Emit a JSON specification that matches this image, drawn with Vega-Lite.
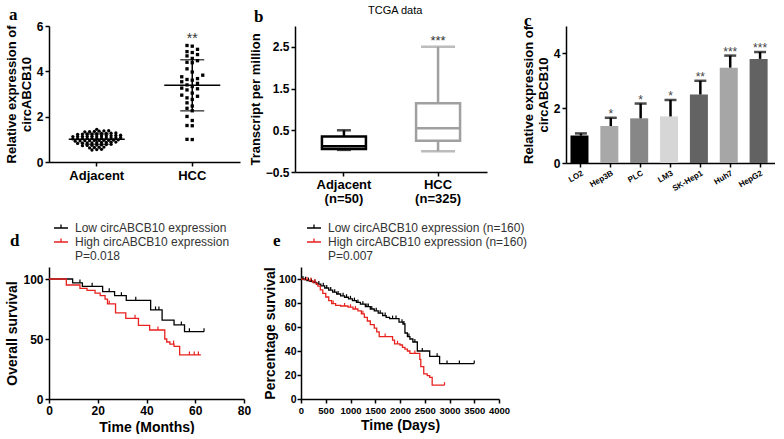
{
  "$schema": "https://vega.github.io/schema/vega-lite/v6.json",
  "background": "white",
  "padding": {"left": 5, "top": 5, "right": 0, "bottom": 0},
  "config": {
    "view": {"stroke": null},
    "font": "Liberation Sans",
    "axis": {"grid": false, "domainColor": "black", "domainWidth": 1.5, "tickColor": "black", "tickWidth": 1.5, "tickSize": 4, "labelFont": "Liberation Sans", "labelFontWeight": "bold", "labelColor": "black", "labelFontSize": 12, "labelPadding": 2, "labelOverlap": false, "labelFlush": false, "titleFont": "Liberation Sans", "titleFontWeight": "bold", "titleColor": "black", "titleFontSize": 13, "titlePadding": 3},
    "legend": {"padding": 0, "titleFont": "Liberation Serif", "titleFontSize": 17, "titleFontWeight": "bold", "titleColor": "black"}
  },
  "align": "none",
  "spacing": 15,
  "resolve": {"scale": {"color": "independent", "shape": "independent", "size": "independent", "opacity": "independent"}, "legend": {"color": "independent", "shape": "independent", "size": "independent", "opacity": "independent"}},
  "vconcat": [
    {
      "align": "none",
      "spacing": 35,
      "resolve": {"scale": {"color": "independent", "shape": "independent", "size": "independent", "opacity": "independent"}, "legend": {"color": "independent", "shape": "independent", "size": "independent", "opacity": "independent"}},
      "hconcat": [
        {
          "align": "none",
          "spacing": 9,
          "resolve": {"scale": {"color": "independent", "shape": "independent", "size": "independent", "opacity": "independent"}, "legend": {"color": "independent", "shape": "independent", "size": "independent", "opacity": "independent"}},
          "hconcat": [
            {
              "width": 191, "height": 136,
              "data": {"values": [
                {"group": "Adjacent", "value": 1.44},
                {"group": "Adjacent", "value": 1.36}, {"group": "Adjacent", "value": 1.34}, {"group": "Adjacent", "value": 1.37}, {"group": "Adjacent", "value": 1.33}, {"group": "Adjacent", "value": 1.35}, {"group": "Adjacent", "value": 1.38},
                {"group": "Adjacent", "value": 1.26}, {"group": "Adjacent", "value": 1.24}, {"group": "Adjacent", "value": 1.27}, {"group": "Adjacent", "value": 1.23}, {"group": "Adjacent", "value": 1.25}, {"group": "Adjacent", "value": 1.28}, {"group": "Adjacent", "value": 1.22}, {"group": "Adjacent", "value": 1.26}, {"group": "Adjacent", "value": 1.24},
                {"group": "Adjacent", "value": 1.16}, {"group": "Adjacent", "value": 1.14}, {"group": "Adjacent", "value": 1.17}, {"group": "Adjacent", "value": 1.13}, {"group": "Adjacent", "value": 1.15}, {"group": "Adjacent", "value": 1.18}, {"group": "Adjacent", "value": 1.12}, {"group": "Adjacent", "value": 1.16}, {"group": "Adjacent", "value": 1.14}, {"group": "Adjacent", "value": 1.15}, {"group": "Adjacent", "value": 1.13},
                {"group": "Adjacent", "value": 1.06}, {"group": "Adjacent", "value": 1.04}, {"group": "Adjacent", "value": 1.07}, {"group": "Adjacent", "value": 1.03}, {"group": "Adjacent", "value": 1.05}, {"group": "Adjacent", "value": 1.08}, {"group": "Adjacent", "value": 1.02}, {"group": "Adjacent", "value": 1.06}, {"group": "Adjacent", "value": 1.04}, {"group": "Adjacent", "value": 1.05}, {"group": "Adjacent", "value": 1.03},
                {"group": "Adjacent", "value": 0.96}, {"group": "Adjacent", "value": 0.94}, {"group": "Adjacent", "value": 0.97}, {"group": "Adjacent", "value": 0.93}, {"group": "Adjacent", "value": 0.95}, {"group": "Adjacent", "value": 0.98}, {"group": "Adjacent", "value": 0.92}, {"group": "Adjacent", "value": 0.96}, {"group": "Adjacent", "value": 0.94}, {"group": "Adjacent", "value": 0.95},
                {"group": "Adjacent", "value": 0.86}, {"group": "Adjacent", "value": 0.84}, {"group": "Adjacent", "value": 0.87}, {"group": "Adjacent", "value": 0.83}, {"group": "Adjacent", "value": 0.85}, {"group": "Adjacent", "value": 0.88}, {"group": "Adjacent", "value": 0.82}, {"group": "Adjacent", "value": 0.86}, {"group": "Adjacent", "value": 0.84},
                {"group": "Adjacent", "value": 0.76}, {"group": "Adjacent", "value": 0.74}, {"group": "Adjacent", "value": 0.77}, {"group": "Adjacent", "value": 0.73}, {"group": "Adjacent", "value": 0.75}, {"group": "Adjacent", "value": 0.72}, {"group": "Adjacent", "value": 0.78},
                {"group": "Adjacent", "value": 0.66}, {"group": "Adjacent", "value": 0.64}, {"group": "Adjacent", "value": 0.62}, {"group": "Adjacent", "value": 0.65},
                {"group": "Adjacent", "value": 0.56}, {"group": "Adjacent", "value": 0.53}, {"group": "Adjacent", "value": 0.55},
                {"group": "HCC", "value": 5.14}, {"group": "HCC", "value": 5.11}, {"group": "HCC", "value": 4.97}, {"group": "HCC", "value": 4.87}, {"group": "HCC", "value": 4.83},
                {"group": "HCC", "value": 4.74}, {"group": "HCC", "value": 4.68}, {"group": "HCC", "value": 4.57}, {"group": "HCC", "value": 4.47}, {"group": "HCC", "value": 4.40},
                {"group": "HCC", "value": 4.38}, {"group": "HCC", "value": 4.11}, {"group": "HCC", "value": 3.97}, {"group": "HCC", "value": 3.83}, {"group": "HCC", "value": 3.76},
                {"group": "HCC", "value": 3.68}, {"group": "HCC", "value": 3.64}, {"group": "HCC", "value": 3.61}, {"group": "HCC", "value": 3.54}, {"group": "HCC", "value": 3.47},
                {"group": "HCC", "value": 3.40}, {"group": "HCC", "value": 3.33}, {"group": "HCC", "value": 3.26}, {"group": "HCC", "value": 3.23}, {"group": "HCC", "value": 3.18},
                {"group": "HCC", "value": 3.04}, {"group": "HCC", "value": 2.95}, {"group": "HCC", "value": 2.90}, {"group": "HCC", "value": 2.83}, {"group": "HCC", "value": 2.76},
                {"group": "HCC", "value": 2.61}, {"group": "HCC", "value": 2.47}, {"group": "HCC", "value": 2.37}, {"group": "HCC", "value": 2.26}, {"group": "HCC", "value": 2.01},
                {"group": "HCC", "value": 1.83}, {"group": "HCC", "value": 1.61}, {"group": "HCC", "value": 1.60}, {"group": "HCC", "value": 1.00}, {"group": "HCC", "value": 0.99}
              ]},
              "encoding": {
                "x": {"field": "group", "type": "nominal", "sort": ["Adjacent", "HCC"], "scale": {"paddingInner": 0.3, "paddingOuter": 0.15}, "axis": {"title": null, "labelAngle": 0, "labelFontSize": 13, "labelPadding": 3}}
              },
              "layer": [
                {
                  "transform": [
                    {"calculate": "floor(datum.value / (datum.group == 'HCC' ? 0.3 : 0.1))", "as": "b"},
                    {"window": [{"op": "row_number", "as": "r"}], "groupby": ["group", "b"], "sort": [{"field": "value"}]},
                    {"joinaggregate": [{"op": "count", "as": "n"}], "groupby": ["group", "b"]},
                    {"calculate": "datum.group == 'HCC' ? (datum.r % 2 == 1 ? 1 : -1) * floor(datum.r / 2) * 1.1 : datum.r - (datum.n + 1) / 2", "as": "off"}
                  ],
                  "mark": {"type": "point", "filled": true, "size": 11, "opacity": 1, "color": "black"},
                  "encoding": {
                    "xOffset": {"field": "off", "type": "quantitative", "scale": {"domain": [-7, 7]}},
                    "y": {"field": "value", "type": "quantitative", "scale": {"domain": [0, 6]}, "axis": {"values": [0, 2, 4, 6]}, "title": ["Relative expression of", "circABCB10"]},
                    "shape": {"field": "group", "type": "nominal", "scale": {"domain": ["Adjacent", "HCC"], "range": ["circle", "square"]}, "legend": {"orient": "none", "legendX": -40, "legendY": -19, "title": "a", "values": ["Adjacent"], "labelExpr": "''", "symbolOpacity": 0, "symbolSize": 0, "symbolFillColor": "transparent", "symbolStrokeColor": "transparent", "titlePadding": 0}}
                  }
                },
                {
                  "mark": {"type": "tick", "color": "black", "thickness": 1.5, "size": 56},
                  "encoding": {"y": {"aggregate": "mean", "field": "value", "type": "quantitative", "title": ["Relative expression of", "circABCB10"]}}
                },
                {
                  "mark": {"type": "errorbar", "extent": "stdev", "ticks": true, "size": 24, "thickness": 1.5, "color": "black"},
                  "encoding": {"y": {"field": "value", "type": "quantitative", "title": ["Relative expression of", "circABCB10"]}}
                },
                {
                  "transform": [{"filter": "datum.group == 'HCC'"}, {"aggregate": [{"op": "max", "field": "value", "as": "top"}], "groupby": ["group"]}],
                  "mark": {"type": "text", "text": "**", "baseline": "bottom", "dy": 1, "fontSize": 14, "color": "#333"},
                  "encoding": {"y": {"field": "top", "type": "quantitative", "title": ["Relative expression of", "circABCB10"]}}
                }
              ]
            },
            {
              "width": 192, "height": 146,
              "data": {"values": [
                {"group": "Adjacent", "min": 0.03, "q1": 0.05, "median": 0.12, "q3": 0.35, "max": 0.5},
                {"group": "HCC", "min": 0.0, "q1": 0.25, "median": 0.55, "q3": 1.15, "max": 2.5}
              ]},
              "encoding": {
                "x": {"field": "group", "type": "nominal", "sort": ["Adjacent", "HCC"], "scale": {"paddingInner": 0.5, "paddingOuter": 0.27}, "axis": {"title": null, "labelAngle": 0, "labelFontSize": 13, "labelLineHeight": 14, "labelExpr": "datum.value == 'Adjacent' ? ['Adjacent', '(n=50)'] : ['HCC', '(n=325)']"}},
                "color": {"field": "group", "type": "nominal", "scale": {"domain": ["Adjacent", "HCC"], "range": ["black", "#a0a0a0"]}, "legend": {"orient": "none", "legendX": -41, "legendY": -17, "title": "b", "values": ["Adjacent"], "labelExpr": "''", "symbolOpacity": 0, "symbolSize": 0, "symbolFillColor": "transparent", "symbolStrokeColor": "transparent", "titlePadding": 0}}
              },
              "layer": [
                {"mark": {"type": "rule", "strokeWidth": 2.5}, "encoding": {"y": {"field": "min", "type": "quantitative", "scale": {"domain": [-0.5, 3]}, "axis": {"values": [-0.5, 0, 0.5, 1, 1.5, 2, 2.5, 3], "format": ".1f"}, "title": "Transcript per million"}, "y2": {"field": "q1"}}},
                {"mark": {"type": "rule", "strokeWidth": 2.5}, "encoding": {"y": {"field": "q3", "type": "quantitative", "title": "Transcript per million"}, "y2": {"field": "max"}}},
                {"mark": {"type": "bar", "filled": false, "strokeWidth": 2.5, "width": 44}, "encoding": {"y": {"field": "q1", "type": "quantitative", "title": "Transcript per million"}, "y2": {"field": "q3"}}},
                {"mark": {"type": "tick", "size": 44, "thickness": 2.5}, "encoding": {"y": {"field": "median", "type": "quantitative", "title": "Transcript per million"}, "opacity": {"field": "median", "type": "nominal", "scale": {"range": [1, 1]}, "legend": {"orient": "none", "legendX": 73, "legendY": -21, "title": "TCGA data", "titleFont": "Liberation Sans", "titleFontSize": 11, "titleFontWeight": "normal", "values": [0.12], "labelExpr": "''", "symbolOpacity": 0, "symbolSize": 0, "symbolFillColor": "transparent", "symbolStrokeColor": "transparent", "symbolStrokeWidth": 0, "titlePadding": 0}}}},
                {"mark": {"type": "tick", "thickness": 2.5}, "encoding": {"y": {"field": "max", "type": "quantitative", "title": "Transcript per million"}, "size": {"field": "group", "type": "nominal", "scale": {"domain": ["Adjacent", "HCC"], "range": [14, 34]}, "legend": null}}},
                {"mark": {"type": "tick", "thickness": 2.5}, "encoding": {"y": {"field": "min", "type": "quantitative", "title": "Transcript per million"}, "size": {"field": "group", "type": "nominal", "scale": {"domain": ["Adjacent", "HCC"], "range": [14, 34]}, "legend": null}}},
                {"transform": [{"filter": "datum.group == 'HCC'"}], "mark": {"type": "text", "text": "***", "baseline": "bottom", "dy": 1, "fontSize": 13, "color": "#333"}, "encoding": {"y": {"field": "max", "type": "quantitative", "title": "Transcript per million"}, "color": {"value": "#333"}}}
              ]
            }
          ]
        },
        {
          "width": 209, "height": 137,
          "data": {"values": [
            {"cell": "LO2", "mean": 1.0, "upper": 1.08, "sig": ""},
            {"cell": "Hep3B", "mean": 1.35, "upper": 1.65, "sig": "*"},
            {"cell": "PLC", "mean": 1.63, "upper": 2.17, "sig": "*"},
            {"cell": "LM3", "mean": 1.7, "upper": 2.3, "sig": "*"},
            {"cell": "SK-Hep1", "mean": 2.5, "upper": 3.0, "sig": "**"},
            {"cell": "Huh7", "mean": 3.48, "upper": 3.92, "sig": "***"},
            {"cell": "HepG2", "mean": 3.8, "upper": 4.05, "sig": "***"}
          ]},
          "encoding": {
            "x": {"field": "cell", "type": "nominal", "sort": null, "scale": {"paddingInner": 0.3, "paddingOuter": 0.15}, "axis": {"title": null, "labelAngle": -30, "labelFontSize": 8, "labelAlign": "right", "labelBaseline": "top"}}
          },
          "layer": [
            {"mark": {"type": "bar"}, "encoding": {
              "y": {"field": "mean", "type": "quantitative", "scale": {"domain": [0, 5]}, "axis": {"values": [0, 1, 2, 3, 4, 5]}, "title": ["Relative expression of", "circABCB10"]},
              "color": {"field": "cell", "type": "nominal", "scale": {"domain": ["LO2", "Hep3B", "PLC", "LM3", "SK-Hep1", "Huh7", "HepG2"], "range": ["#000000", "#a8a8a8", "#878787", "#d6d6d6", "#636363", "#a6a6a6", "#626262"]}, "legend": {"orient": "none", "legendX": -42, "legendY": -13, "title": "c", "values": ["LO2"], "labelExpr": "''", "symbolOpacity": 0, "symbolSize": 1, "titlePadding": 0}}
            }},
            {"mark": {"type": "rule", "strokeWidth": 2.5, "color": "black"}, "encoding": {"y": {"field": "mean", "type": "quantitative", "title": ["Relative expression of", "circABCB10"]}, "y2": {"field": "upper"}}},
            {"mark": {"type": "tick", "size": 12, "thickness": 2.5, "color": "black"}, "encoding": {"y": {"field": "upper", "type": "quantitative", "title": ["Relative expression of", "circABCB10"]}}},
            {"mark": {"type": "text", "baseline": "bottom", "dy": 3, "fontSize": 12, "color": "#444"}, "encoding": {"y": {"field": "upper", "type": "quantitative", "title": ["Relative expression of", "circABCB10"]}, "text": {"field": "sig"}}}
          ]
        }
      ]
    },
    {
      "align": "none",
      "spacing": 12,
      "resolve": {"scale": {"color": "independent"}, "legend": {"color": "independent"}},
      "hconcat": [
        {
          "width": 195, "height": 132,
          "encoding": {
            "x": {"field": "t", "type": "quantitative", "scale": {"domain": [0, 80]}, "axis": {"values": [0, 20, 40, 60, 80], "title": "Time (Months)", "titleFontSize": 14, "titlePadding": 4}},
            "y": {"field": "s", "type": "quantitative", "scale": {"domain": [0, 110]}, "axis": {"values": [0, 50, 100], "title": "Overall survival", "titleFontSize": 14}},
            "color": {"field": "g", "type": "nominal", "scale": {"domain": ["Low", "High", "P"], "range": ["black", "#e8221f", "transparent"]}, "legend": {"orient": "none", "legendX": -39, "legendY": -47, "title": "d", "titleOrient": "left", "titleAngle": 0, "titleAnchor": "middle", "titleBaseline": "middle", "titlePadding": 33, "symbolType": "M-1,0H1M0,0V-0.5", "symbolSize": 196, "symbolStrokeWidth": 1.3, "symbolFillColor": "transparent", "labelFont": "Liberation Sans", "labelFontSize": 12, "labelFontWeight": "normal", "labelColor": "#333", "labelOffset": 6, "labelLimit": 400, "rowPadding": 0, "labelExpr": "datum.label == 'Low' ? 'Low circABCB10 expression' : datum.label == 'High' ? 'High circABCB10 expression' : 'P=0.018'"}}
          },
          "layer": [
            {
              "data": {"values": [
                {"g": "Low", "t": 0, "s": 100}, {"g": "Low", "t": 9.7, "s": 96.7}, {"g": "Low", "t": 13.7, "s": 93.9}, {"g": "Low", "t": 22, "s": 89.4}, {"g": "Low", "t": 26.9, "s": 86.1}, {"g": "Low", "t": 31.7, "s": 82.2}, {"g": "Low", "t": 41.7, "s": 74.2}, {"g": "Low", "t": 46.4, "s": 65.8}, {"g": "Low", "t": 51.3, "s": 61.7}, {"g": "Low", "t": 55.6, "s": 56.1}, {"g": "Low", "t": 63.6, "s": 56.1},
                {"g": "High", "t": 0, "s": 100}, {"g": "High", "t": 7.1, "s": 95}, {"g": "High", "t": 12.7, "s": 92.2}, {"g": "High", "t": 15.6, "s": 90.6}, {"g": "High", "t": 18.9, "s": 88.3}, {"g": "High", "t": 21, "s": 86.1}, {"g": "High", "t": 23, "s": 83.3}, {"g": "High", "t": 24, "s": 79.2}, {"g": "High", "t": 27.3, "s": 71.7}, {"g": "High", "t": 31.5, "s": 67.2}, {"g": "High", "t": 36.7, "s": 61.4}, {"g": "High", "t": 41.3, "s": 57.5}, {"g": "High", "t": 47.5, "s": 50}, {"g": "High", "t": 48.3, "s": 47.5}, {"g": "High", "t": 49.6, "s": 45.8}, {"g": "High", "t": 51.3, "s": 43.9}, {"g": "High", "t": 53.6, "s": 36.7}, {"g": "High", "t": 62.3, "s": 36.7}
              ]},
              "mark": {"type": "line", "interpolate": "step-after", "strokeWidth": 1.3}
            },
            {
              "data": {"values": [
                {"g": "Low", "t": 12.7, "s": 96.7}, {"g": "Low", "t": 17.7, "s": 93.9}, {"g": "Low", "t": 24.7, "s": 89.4}, {"g": "Low", "t": 29.7, "s": 86.1}, {"g": "Low", "t": 35.6, "s": 82.2}, {"g": "Low", "t": 43.7, "s": 74.2}, {"g": "Low", "t": 45.1, "s": 74.2}, {"g": "Low", "t": 54.3, "s": 61.7}, {"g": "Low", "t": 57.6, "s": 56.1}, {"g": "Low", "t": 63.6, "s": 56.1},
                {"g": "High", "t": 24.7, "s": 79.2}, {"g": "High", "t": 35.3, "s": 67.2}, {"g": "High", "t": 44.7, "s": 57.5}, {"g": "High", "t": 51.1, "s": 45.8}, {"g": "High", "t": 57.6, "s": 36.7}, {"g": "High", "t": 59.6, "s": 36.7}, {"g": "High", "t": 61.3, "s": 36.7}
              ]},
              "mark": {"type": "point", "shape": "M0,0V-1", "size": 49, "strokeWidth": 1.2, "filled": false, "opacity": 1}
            }
          ]
        },
        {
          "width": 198, "height": 132,
          "encoding": {
            "x": {"field": "t", "type": "quantitative", "scale": {"domain": [0, 4000]}, "axis": {"values": [0, 500, 1000, 1500, 2000, 2500, 3000, 3500, 4000], "format": "d", "title": "Time (Days)", "titleFontSize": 14, "titlePadding": 4, "labelFontSize": 9.5}},
            "y": {"field": "s", "type": "quantitative", "scale": {"domain": [0, 110]}, "axis": {"values": [0, 20, 40, 60, 80, 100], "title": "Percentage survival", "titleFontSize": 14, "titlePadding": 1, "labelPadding": 1, "labelFontSize": 10.5}},
            "color": {"field": "g", "type": "nominal", "scale": {"domain": ["Low", "High", "P"], "range": ["black", "#e8221f", "transparent"]}, "legend": {"orient": "none", "legendX": -28, "legendY": -47, "title": "e", "titleOrient": "left", "titleAngle": 0, "titleAnchor": "middle", "titleBaseline": "middle", "titlePadding": 25, "symbolType": "M-1,0H1M0,0V-0.5", "symbolSize": 196, "symbolStrokeWidth": 1.3, "symbolFillColor": "transparent", "labelFont": "Liberation Sans", "labelFontSize": 12, "labelFontWeight": "normal", "labelColor": "#333", "labelOffset": 6, "labelLimit": 400, "rowPadding": 0, "labelExpr": "datum.label == 'Low' ? 'Low circABCB10 expression (n=160)' : datum.label == 'High' ? 'High circABCB10 expression (n=160)' : 'P=0.007'"}}
          },
          "layer": [
            {
              "data": {"values": [
                {"g": "Low", "t": 0, "s": 100}, {"g": "Low", "t": 60, "s": 99.4}, {"g": "Low", "t": 120, "s": 98.7}, {"g": "Low", "t": 180, "s": 98}, {"g": "Low", "t": 250, "s": 97}, {"g": "Low", "t": 320, "s": 95.8}, {"g": "Low", "t": 400, "s": 94.3}, {"g": "Low", "t": 480, "s": 92.5}, {"g": "Low", "t": 560, "s": 90.8}, {"g": "Low", "t": 640, "s": 89}, {"g": "Low", "t": 720, "s": 87.5}, {"g": "Low", "t": 800, "s": 86}, {"g": "Low", "t": 880, "s": 84.8}, {"g": "Low", "t": 960, "s": 83.5}, {"g": "Low", "t": 1040, "s": 82}, {"g": "Low", "t": 1120, "s": 80.5}, {"g": "Low", "t": 1200, "s": 79}, {"g": "Low", "t": 1300, "s": 77}, {"g": "Low", "t": 1400, "s": 75}, {"g": "Low", "t": 1480, "s": 73.5}, {"g": "Low", "t": 1560, "s": 71.5}, {"g": "Low", "t": 1650, "s": 69.5}, {"g": "Low", "t": 1720, "s": 68}, {"g": "Low", "t": 1790, "s": 67}, {"g": "Low", "t": 1980, "s": 64}, {"g": "Low", "t": 2060, "s": 62.5}, {"g": "Low", "t": 2100, "s": 55}, {"g": "Low", "t": 2150, "s": 52}, {"g": "Low", "t": 2200, "s": 50}, {"g": "Low", "t": 2260, "s": 47.5}, {"g": "Low", "t": 2350, "s": 40}, {"g": "Low", "t": 2600, "s": 35.6}, {"g": "Low", "t": 2800, "s": 29.5}, {"g": "Low", "t": 3500, "s": 29.5},
                {"g": "High", "t": 0, "s": 100}, {"g": "High", "t": 80, "s": 99.4}, {"g": "High", "t": 160, "s": 98.7}, {"g": "High", "t": 230, "s": 97.5}, {"g": "High", "t": 300, "s": 96}, {"g": "High", "t": 340, "s": 94}, {"g": "High", "t": 390, "s": 91}, {"g": "High", "t": 440, "s": 88}, {"g": "High", "t": 500, "s": 85}, {"g": "High", "t": 560, "s": 82}, {"g": "High", "t": 620, "s": 79.5}, {"g": "High", "t": 700, "s": 78}, {"g": "High", "t": 800, "s": 77.5}, {"g": "High", "t": 950, "s": 76.5}, {"g": "High", "t": 1050, "s": 75}, {"g": "High", "t": 1150, "s": 73.5}, {"g": "High", "t": 1220, "s": 71}, {"g": "High", "t": 1280, "s": 68}, {"g": "High", "t": 1340, "s": 65}, {"g": "High", "t": 1400, "s": 62}, {"g": "High", "t": 1480, "s": 59}, {"g": "High", "t": 1530, "s": 56}, {"g": "High", "t": 1580, "s": 52}, {"g": "High", "t": 1800, "s": 52}, {"g": "High", "t": 1850, "s": 49}, {"g": "High", "t": 1890, "s": 46}, {"g": "High", "t": 2000, "s": 45}, {"g": "High", "t": 2050, "s": 43}, {"g": "High", "t": 2100, "s": 41.5}, {"g": "High", "t": 2150, "s": 40}, {"g": "High", "t": 2200, "s": 38}, {"g": "High", "t": 2370, "s": 38}, {"g": "High", "t": 2400, "s": 33}, {"g": "High", "t": 2420, "s": 27}, {"g": "High", "t": 2480, "s": 21}, {"g": "High", "t": 2550, "s": 19.5}, {"g": "High", "t": 2600, "s": 18}, {"g": "High", "t": 2650, "s": 11.5}, {"g": "High", "t": 2900, "s": 11.5}
              ]},
              "mark": {"type": "line", "interpolate": "step-after", "strokeWidth": 1.3}
            },
            {
              "data": {"values": [
                {"g": "Low", "t": 40, "s": 100}, {"g": "Low", "t": 90, "s": 99.4}, {"g": "Low", "t": 150, "s": 98.7}, {"g": "Low", "t": 210, "s": 98}, {"g": "Low", "t": 280, "s": 97}, {"g": "Low", "t": 360, "s": 95.8}, {"g": "Low", "t": 450, "s": 94.3}, {"g": "Low", "t": 520, "s": 92.5}, {"g": "Low", "t": 600, "s": 90.8}, {"g": "Low", "t": 680, "s": 89}, {"g": "Low", "t": 750, "s": 87.5}, {"g": "Low", "t": 850, "s": 86}, {"g": "Low", "t": 920, "s": 84.8}, {"g": "Low", "t": 1000, "s": 83.5}, {"g": "Low", "t": 1080, "s": 82}, {"g": "Low", "t": 1150, "s": 80.5}, {"g": "Low", "t": 1250, "s": 79}, {"g": "Low", "t": 1330, "s": 77}, {"g": "Low", "t": 1360, "s": 77}, {"g": "Low", "t": 1430, "s": 75}, {"g": "Low", "t": 1520, "s": 73.5}, {"g": "Low", "t": 1600, "s": 71.5}, {"g": "Low", "t": 1700, "s": 69.5}, {"g": "Low", "t": 1850, "s": 67}, {"g": "Low", "t": 1920, "s": 67}, {"g": "Low", "t": 2040, "s": 64}, {"g": "Low", "t": 2080, "s": 62.5}, {"g": "Low", "t": 2180, "s": 52}, {"g": "Low", "t": 2300, "s": 47.5}, {"g": "Low", "t": 2450, "s": 40}, {"g": "Low", "t": 2750, "s": 35.6}, {"g": "Low", "t": 2950, "s": 29.5}, {"g": "Low", "t": 3200, "s": 29.5}, {"g": "Low", "t": 3500, "s": 29.5},
                {"g": "High", "t": 120, "s": 99.4}, {"g": "High", "t": 200, "s": 98.7}, {"g": "High", "t": 280, "s": 97.5}, {"g": "High", "t": 650, "s": 79.5}, {"g": "High", "t": 880, "s": 77.5}, {"g": "High", "t": 1000, "s": 76.5}, {"g": "High", "t": 1100, "s": 75}, {"g": "High", "t": 1250, "s": 71}, {"g": "High", "t": 1700, "s": 52}, {"g": "High", "t": 1950, "s": 46}, {"g": "High", "t": 2300, "s": 38}, {"g": "High", "t": 2900, "s": 11.5}
              ]},
              "mark": {"type": "point", "shape": "M0,0V-1", "size": 36, "strokeWidth": 1.2, "filled": false, "opacity": 1}
            }
          ]
        }
      ]
    }
  ]
}
